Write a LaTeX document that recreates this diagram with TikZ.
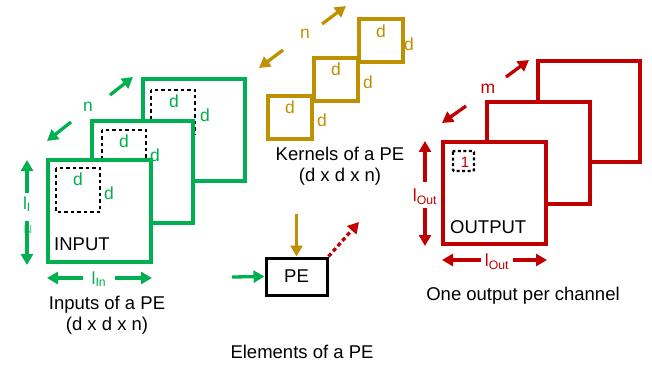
\documentclass[tikz,border=0pt]{standalone}
\usepackage{fontspec}
\setmainfont{Liberation Sans}
\usetikzlibrary{arrows.meta}
\definecolor{cgreen}{HTML}{00B050}
\definecolor{cgold}{HTML}{BF9000}
\definecolor{cred}{HTML}{C00000}
\begin{document}
\begin{tikzpicture}[x=1pt,y=-1pt,
  captext/.style={font=\fontsize{18.5}{21}\selectfont, inner sep=0pt, align=center},
  lbl/.style={font=\fontsize{17.5}{19}\selectfont, inner sep=0pt},
  sq/.style={line width=3.1pt, fill=white},
  dsq/.style={line width=2.6pt, dash pattern=on 3.5pt off 3pt, draw=black},
  arr/.style={line width=3.3pt, -{Triangle[length=11pt,width=12pt]}},
  ]
\useasboundingbox (0,0) rectangle (652,366);

% ---------- INPUTS ----------
\draw[sq, draw=cgreen] (143,79) rectangle (245,181);
\draw[dsq] (151,90) rectangle (195,134);
\node[lbl, text=cgreen] (dib1) at (174,101) {d};
\node[lbl, text=cgreen] (dib2) at (205,115) {d};
\draw[sq, draw=cgreen] (92,121) rectangle (193,223);
\draw[dsq] (102,130) rectangle (146,174);
\node[lbl, text=cgreen] (dim1) at (124,141) {d};
\node[lbl, text=cgreen] (dim2) at (155,155) {d};
\draw[sq, draw=cgreen] (48,160) rectangle (151,262);
\draw[dsq] (56,168) rectangle (100,212);
\node[lbl, text=cgreen] (dif1) at (78,179) {d};
\node[lbl, text=cgreen] (dif2) at (109,193) {d};
\node[captext, anchor=west] (inlabel) at (54,244) {INPUT};

\node[lbl, text=cgreen] (nin) at (88,107) {n};
\coordinate (ninA) at (110,95); \coordinate (ninB) at (133,77);
\coordinate (ninC) at (71,122); \coordinate (ninD) at (47,141);
\draw[arr, cgreen] (ninA) -- (ninB);
\draw[arr, cgreen] (ninC) -- (ninD);

\node[lbl, text=cgreen] (liv) at (27,204) {l\textsubscript{I}};
\node[font=\fontsize{12}{13}\selectfont, inner sep=0pt, text=cgreen!65] (lin2) at (28,229) {N};
\coordinate (livA) at (27,193); \coordinate (livB) at (27,160);
\coordinate (livC) at (27,221); \coordinate (livD) at (27,265);
\draw[arr, cgreen] (livA) -- (livB);
\draw[arr, cgreen] (livC) -- (livD);

\node[lbl, text=cgreen] (lih) at (99,279) {l\textsubscript{In}};
\coordinate (lihA) at (83,278); \coordinate (lihB) at (47,278);
\coordinate (lihC) at (115,278); \coordinate (lihD) at (152,278);
\draw[arr, cgreen] (lihA) -- (lihB);
\draw[arr, cgreen] (lihC) -- (lihD);

\node[captext] (incap) at (107,315) {Inputs of a PE\\(d x d x n)};

% ---------- KERNELS ----------
\draw[sq, draw=cgold] (359,19) rectangle (403,62);
\node[lbl, text=cgold] (dkb1) at (381,31) {d};
\node[lbl, text=cgold] (dkb2) at (409,44) {d};
\draw[sq, draw=cgold] (314,58) rectangle (358,101);
\node[lbl, text=cgold] (dkm1) at (336,69) {d};
\node[lbl, text=cgold] (dkm2) at (368,82) {d};
\draw[sq, draw=cgold] (268,96) rectangle (312,139);
\node[lbl, text=cgold] (dkf1) at (290,107) {d};
\node[lbl, text=cgold] (dkf2) at (322,120) {d};

\node[lbl, text=cgold] (nk) at (305,34) {n};
\coordinate (nkA) at (322,24); \coordinate (nkB) at (346,6);
\coordinate (nkC) at (283,50); \coordinate (nkD) at (259,68);
\draw[arr, cgold] (nkA) -- (nkB);
\draw[arr, cgold] (nkC) -- (nkD);

\node[captext] (kcap) at (340,166) {Kernels of a PE\\(d x d x n)};

% ---------- PE ----------
\node[draw, line width=3pt, minimum width=61pt, minimum height=37pt, inner sep=0pt,
      font=\fontsize{18.5}{21}\selectfont] (pe) at (296.5,276.5) {PE};
\coordinate (peIn) at (232,277);
\coordinate (peTop) at (296.5,214);
\coordinate (peOut) at (359,222);
\draw[arr, cgreen] (peIn) -- (pe.west);
\draw[arr, cgold] (peTop) -- (pe.north);
\draw[arr, cred, dash pattern=on 4pt off 3pt] (pe.north east) -- (peOut);
\node[captext] (pecap) at (302,352) {Elements of a PE};

% ---------- OUTPUT ----------
\draw[sq, draw=cred] (538,61) rectangle (640,162);
\draw[sq, draw=cred] (487,102) rectangle (590,204);
\draw[sq, draw=cred] (443,142) rectangle (546,244);
\draw[line width=2.2pt, dash pattern=on 3pt off 2.5pt, draw=black, rounded corners=1pt] (453,151) rectangle (474,171);
\node[font=\fontsize{15}{17}\selectfont, inner sep=0pt, text=cred] (one) at (465,162) {1};
\node[captext, anchor=west] (outlabel) at (450,227) {OUTPUT};

\node[lbl, text=cred] (mo) at (488,89) {m};
\coordinate (moA) at (506,77); \coordinate (moB) at (529,60);
\coordinate (moC) at (466,106); \coordinate (moD) at (442,123);
\draw[arr, cred] (moA) -- (moB);
\draw[arr, cred] (moC) -- (moD);

\node[lbl, text=cred] (lov) at (425,197) {l\textsubscript{Out}};
\coordinate (lovA) at (425,182); \coordinate (lovB) at (425,141);
\coordinate (lovC) at (425,208); \coordinate (lovD) at (425,246);
\draw[arr, cred] (lovA) -- (lovB);
\draw[arr, cred] (lovC) -- (lovD);

\node[lbl, text=cred] (loh) at (497,262) {l\textsubscript{Out}};
\coordinate (lohA) at (481,260); \coordinate (lohB) at (442,260);
\coordinate (lohC) at (513,260); \coordinate (lohD) at (547,260);
\draw[arr, cred] (lohA) -- (lohB);
\draw[arr, cred] (lohC) -- (lohD);

\node[captext] (ocap) at (523,296) {One output per channel};
\end{tikzpicture}
\end{document}
